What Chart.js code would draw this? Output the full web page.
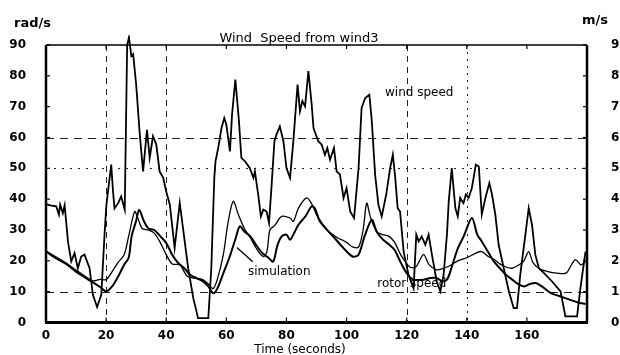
<!DOCTYPE html>
<html><head><meta charset="utf-8">
<script src="https://cdn.jsdelivr.net/npm/chart.js@4/dist/chart.umd.min.js"></script>
<style>html,body{margin:0;padding:0;background:#fff}#wrap{width:620px;height:355px}</style>
</head><body><div id="wrap"><canvas id="c" width="620" height="355"></canvas></div>
<script>
// ---- data (time in seconds) ----
const windT = [0,1.5,3.4,4.3,4.7,5.6,6.2,7.3,8.4,9.5,10.6,11.7,12.8,14.5,15.6,17,18.4,19.5,20.1,21.7,22.3,22.8,24,25,26.2,27,27.6,28.4,29,30,31.2,32.3,33.6,34.5,35.6,36.7,37.8,39,40,41.2,42.8,44.5,47.3,49,50.6,54,55,56,56.4,57.3,58.4,59.3,60,61.2,61.9,63,64.2,65,66.2,67.8,69,69.5,70.6,71.5,72.3,73.4,74.2,75,76,76.7,77.8,79,80,81.2,82.3,83.7,84.5,85.3,86.2,87.3,88.4,89,90.6,91.7,92.8,93.6,94.5,95.8,96.7,97.8,99,100,101.2,102.5,104,105,106.2,107.6,108.4,109.5,110.6,111.7,113.2,114.5,115.4,116.2,117,117.8,119,120.6,122.3,123.2,124,125,126.2,127.3,128.4,130,131.2,132.3,133.4,134,135,136.2,137,137.8,138.9,139.7,140.6,141.7,143,144,145,146.2,147.5,148.4,149.5,150.6,152.3,154,155.6,156.7,157.8,159.5,160.6,161.7,162.8,164,166.2,168.4,171.2,172.8,176.7,177.8,179.5];
const windMS = [3.84,3.80,3.77,3.50,3.82,3.55,3.80,2.63,1.98,2.25,1.76,2.14,2.20,1.76,0.90,0.50,0.90,2.90,3.82,5.12,4.25,3.70,3.87,4.09,3.66,9.00,9.25,8.64,8.70,7.72,6.10,4.90,6.25,5.34,6.04,5.77,4.90,4.69,4.25,3.82,2.42,3.88,1.76,0.79,0.14,0.14,1.76,4.69,5.23,5.66,6.31,6.63,6.42,5.55,6.74,7.88,6.53,5.34,5.23,5.01,4.69,4.90,4.15,3.44,3.66,3.60,3.23,4.36,5.88,6.10,6.36,5.88,5.01,4.69,5.88,7.72,6.85,7.18,7.01,8.15,7.07,6.31,5.88,5.77,5.44,5.66,5.28,5.66,4.90,4.80,4.04,4.36,3.60,3.39,5.01,6.96,7.28,7.39,6.53,4.80,3.82,3.44,4.15,5.01,5.44,4.69,3.71,3.60,2.30,1.55,1.11,2.85,2.63,2.79,2.52,2.85,2.20,1.33,1.01,1.55,2.85,3.93,5.01,3.71,3.44,4.04,3.87,4.15,4.04,4.36,5.12,5.06,3.50,4.04,4.52,4.15,3.50,2.52,1.76,1.01,0.47,0.47,1.55,2.85,3.71,3.17,2.20,1.76,1.55,1.33,1.01,0.20,0.20,1.11,2.30];

const rotorT = [0,3,6.7,10,12.3,15.6,18,20,22,24,26,27.5,29.5,30.5,32,34,36,38,40,42,44.5,47,49.5,52,54,55.6,57,59,60.5,62.3,64,66,68,70,72.3,73.5,74.5,76.2,78.4,81.2,82.3,84,86.7,88.4,90,92,94,97,100,102,104,105.5,106.7,108,110,112,114,116,118,119.5,121,123,125.6,127.5,130,132,134.5,137,140,143,145,147,149,151,153,155,157,159,160.6,162,164,167,170,173,175,176.2,178,179.5];
const rotorV = [23.1,21.5,19.3,17,15.5,13.5,14,13.9,16.5,19.5,22,28,36,34,30.5,30,29,26,22,19,18.7,15,14.4,14,12.5,11,14,22,32,39.3,35,30.5,27.5,24,21.4,23,30,31.6,34.4,33.9,32.8,37.1,40.4,38.5,35,32,29.5,27.5,26,24.5,24.5,30,38.7,34,29.5,28.5,28,26,22,19.8,18,18,22,18.7,17.1,17.5,18.5,20,21,22.5,23,21.5,20.5,19,18,17.6,18.5,20,23,19.5,17.5,16.5,16,16,19,20.4,18.7,19.8];

const simT = [0,3,6.7,10,12.3,15.6,18,20,22,24,26,27.5,28.5,30,31,32.5,34,36,38,40,42,44,46,48,50,52,54,55.6,57,59,61,63,64.5,66,68,70,72,74,75.6,77,78.4,80,81.2,82.3,84,86.3,88.4,89.5,91,93,96,99,102,104,106,108.4,110,112,114.5,116,118,120,122,125,128,130,132,133.5,135,137,139,141.7,143.5,145,147,149,151,153,155,157,159,161,163,165,168,171,174,177,179.5];
const simV = [23.1,21,19,16.5,15,13,11.5,10.1,11.7,14.9,18.7,21,28,33,36.6,33,30.6,30,28,25.8,22,19.3,17.6,15.5,14.4,13.5,11.7,9.5,11,16,21,27,31.2,29.5,27.9,25,22.5,21,19.8,25,27.9,28.5,26.8,28.5,31.7,34.4,37.7,37,33,30.6,27.4,24.1,21.4,22,28,33.3,29.5,27,25,23.5,19.5,16,14,13.8,14.4,14.4,13.3,14,18,24,28,33.9,28.5,26.3,23,19.8,17.6,15.5,14,12.5,11.7,12.5,12.8,11.7,9.5,8.5,7.5,6.5,6];

const timeTicks = [0,20,40,60,80,100,120,140,160];
const radTicks = [0,10,20,30,40,50,60,70,80,90];
const msTicks = [0,1,2,3,4,5,6,7,8,9];

// grid lines drawn in the reference: [value, dash pattern]
const hGrid = [[10,[8,6]],[50,[2,6]],[60,[8,6]]];
const vGrid = [[20,[6,5]],[40,[6,5]],[120,[6,5]],[140,[2,5]]];

// annotation texts [text, time, rad/s value]
const notes = [["wind speed",112.8,74.6],["simulation",67.2,16.3],["rotor speed",110.2,12.6]];
const pointer = [[63.5,24.3],[68.8,19.7]];

const zip = (t,v) => t.map((x,i)=>({x:x,y:v[i]}));

const FONT = "'DejaVu Sans', 'Liberation Sans', sans-serif";

const decor = {
  id:'decor',
  beforeDatasetsDraw(chart){
    const {ctx, chartArea:a, scales:{x,y}} = chart;
    ctx.save();
    ctx.strokeStyle='#222'; ctx.lineWidth=1;
    hGrid.forEach(([v,d])=>{const py=Math.round(y.getPixelForValue(v))+0.5;ctx.setLineDash(d);ctx.beginPath();ctx.moveTo(a.left,py);ctx.lineTo(a.right,py);ctx.stroke();});
    vGrid.forEach(([t,d])=>{const px=Math.round(x.getPixelForValue(t))+0.5;ctx.setLineDash(d);ctx.beginPath();ctx.moveTo(px,a.top);ctx.lineTo(px,a.bottom);ctx.stroke();});
    ctx.restore();
  },
  afterDatasetsDraw(chart){
    const {ctx, chartArea:a, scales:{x,y,y2}} = chart;
    ctx.save();
    ctx.setLineDash([]);
    ctx.strokeStyle='#000';
    // frame
    ctx.lineWidth=1.5; ctx.beginPath(); ctx.moveTo(a.left,a.top); ctx.lineTo(a.right,a.top); ctx.stroke();
    ctx.lineWidth=2.5; ctx.beginPath(); ctx.moveTo(a.left,a.top); ctx.lineTo(a.left,a.bottom); ctx.stroke();
    ctx.beginPath(); ctx.moveTo(a.right,a.top); ctx.lineTo(a.right,a.bottom); ctx.stroke();
    ctx.lineWidth=3; ctx.beginPath(); ctx.moveTo(a.left-1,a.bottom); ctx.lineTo(a.right+1,a.bottom); ctx.stroke();
    // inner ticks
    ctx.lineWidth=1.2;
    radTicks.forEach(v=>{const py=y.getPixelForValue(v);ctx.beginPath();ctx.moveTo(a.left,py);ctx.lineTo(a.left+4,py);ctx.stroke();});
    msTicks.forEach(v=>{const py=y2.getPixelForValue(v);ctx.beginPath();ctx.moveTo(a.right,py);ctx.lineTo(a.right-4,py);ctx.stroke();});
    timeTicks.forEach(t=>{const px=x.getPixelForValue(t);ctx.beginPath();ctx.moveTo(px,a.bottom);ctx.lineTo(px,a.bottom-5);ctx.stroke();ctx.beginPath();ctx.moveTo(px,a.top);ctx.lineTo(px,a.top+4);ctx.stroke();});
    // pointer
    ctx.lineWidth=1.3;
    ctx.beginPath();ctx.moveTo(x.getPixelForValue(pointer[0][0]),y.getPixelForValue(pointer[0][1]));ctx.lineTo(x.getPixelForValue(pointer[1][0]),y.getPixelForValue(pointer[1][1]));ctx.stroke();
    // texts
    ctx.fillStyle='#000';
    ctx.textBaseline='middle'; ctx.textAlign='left';
    ctx.font='12px '+FONT;
    notes.forEach(([s,t,v])=>ctx.fillText(s,x.getPixelForValue(t),y.getPixelForValue(v)));
    ctx.textAlign='center'; ctx.textBaseline='alphabetic';
    ctx.font='13px '+FONT;
    ctx.fillText('Wind  Speed from wind3',299,42);
    ctx.font='12px '+FONT;
    ctx.fillText('Time (seconds)',300,353);
    ctx.font='bold 13px '+FONT;
    ctx.textAlign='left';
    ctx.fillText('rad/s',14,27);
    ctx.fillText('m/s',582,24);
    ctx.restore();
  }
};

new Chart(document.getElementById('c'),{
  type:'line',
  data:{datasets:[
    {label:'wind speed',data:zip(windT,windMS),yAxisID:'y2',borderColor:'#000',borderWidth:1.8,pointRadius:0,tension:0,clip:10},
    {label:'rotor speed',data:zip(rotorT,rotorV),yAxisID:'y',borderColor:'#000',borderWidth:1.3,pointRadius:0,tension:0.3},
    {label:'simulation',data:zip(simT,simV),yAxisID:'y',borderColor:'#000',borderWidth:2,pointRadius:0,tension:0.3}
  ]},
  options:{
    responsive:false, animation:false,
    layout:{padding:{top:45,left:0,right:0,bottom:0}},
    plugins:{legend:{display:false},tooltip:{enabled:false},title:{display:false}},
    scales:{
      x:{type:'linear',min:0,max:180,grid:{display:false},border:{display:false},
         afterBuildTicks:s=>{s.ticks=timeTicks.map(v=>({value:v}));},
         afterFit:s=>{s.height=32.5;},
         ticks:{color:'#000',font:{family:FONT,weight:'bold',size:12},padding:-2,maxRotation:0,autoSkip:false}},
      y:{type:'linear',position:'left',min:0,max:90,grid:{display:false},border:{display:false},
         afterBuildTicks:s=>{s.ticks=radTicks.map(v=>({value:v}));},
         afterFit:s=>{s.width=46;},
         ticks:{color:'#000',font:{family:FONT,weight:'bold',size:12},padding:12}},
      y2:{type:'linear',position:'right',min:0,max:9,grid:{display:false},border:{display:false},
         afterBuildTicks:s=>{s.ticks=msTicks.map(v=>({value:v}));},
         afterFit:s=>{s.width=33;},
         ticks:{color:'#000',font:{family:FONT,weight:'bold',size:12},padding:16}}
    }
  },
  plugins:[decor]
});
</script></body></html>
